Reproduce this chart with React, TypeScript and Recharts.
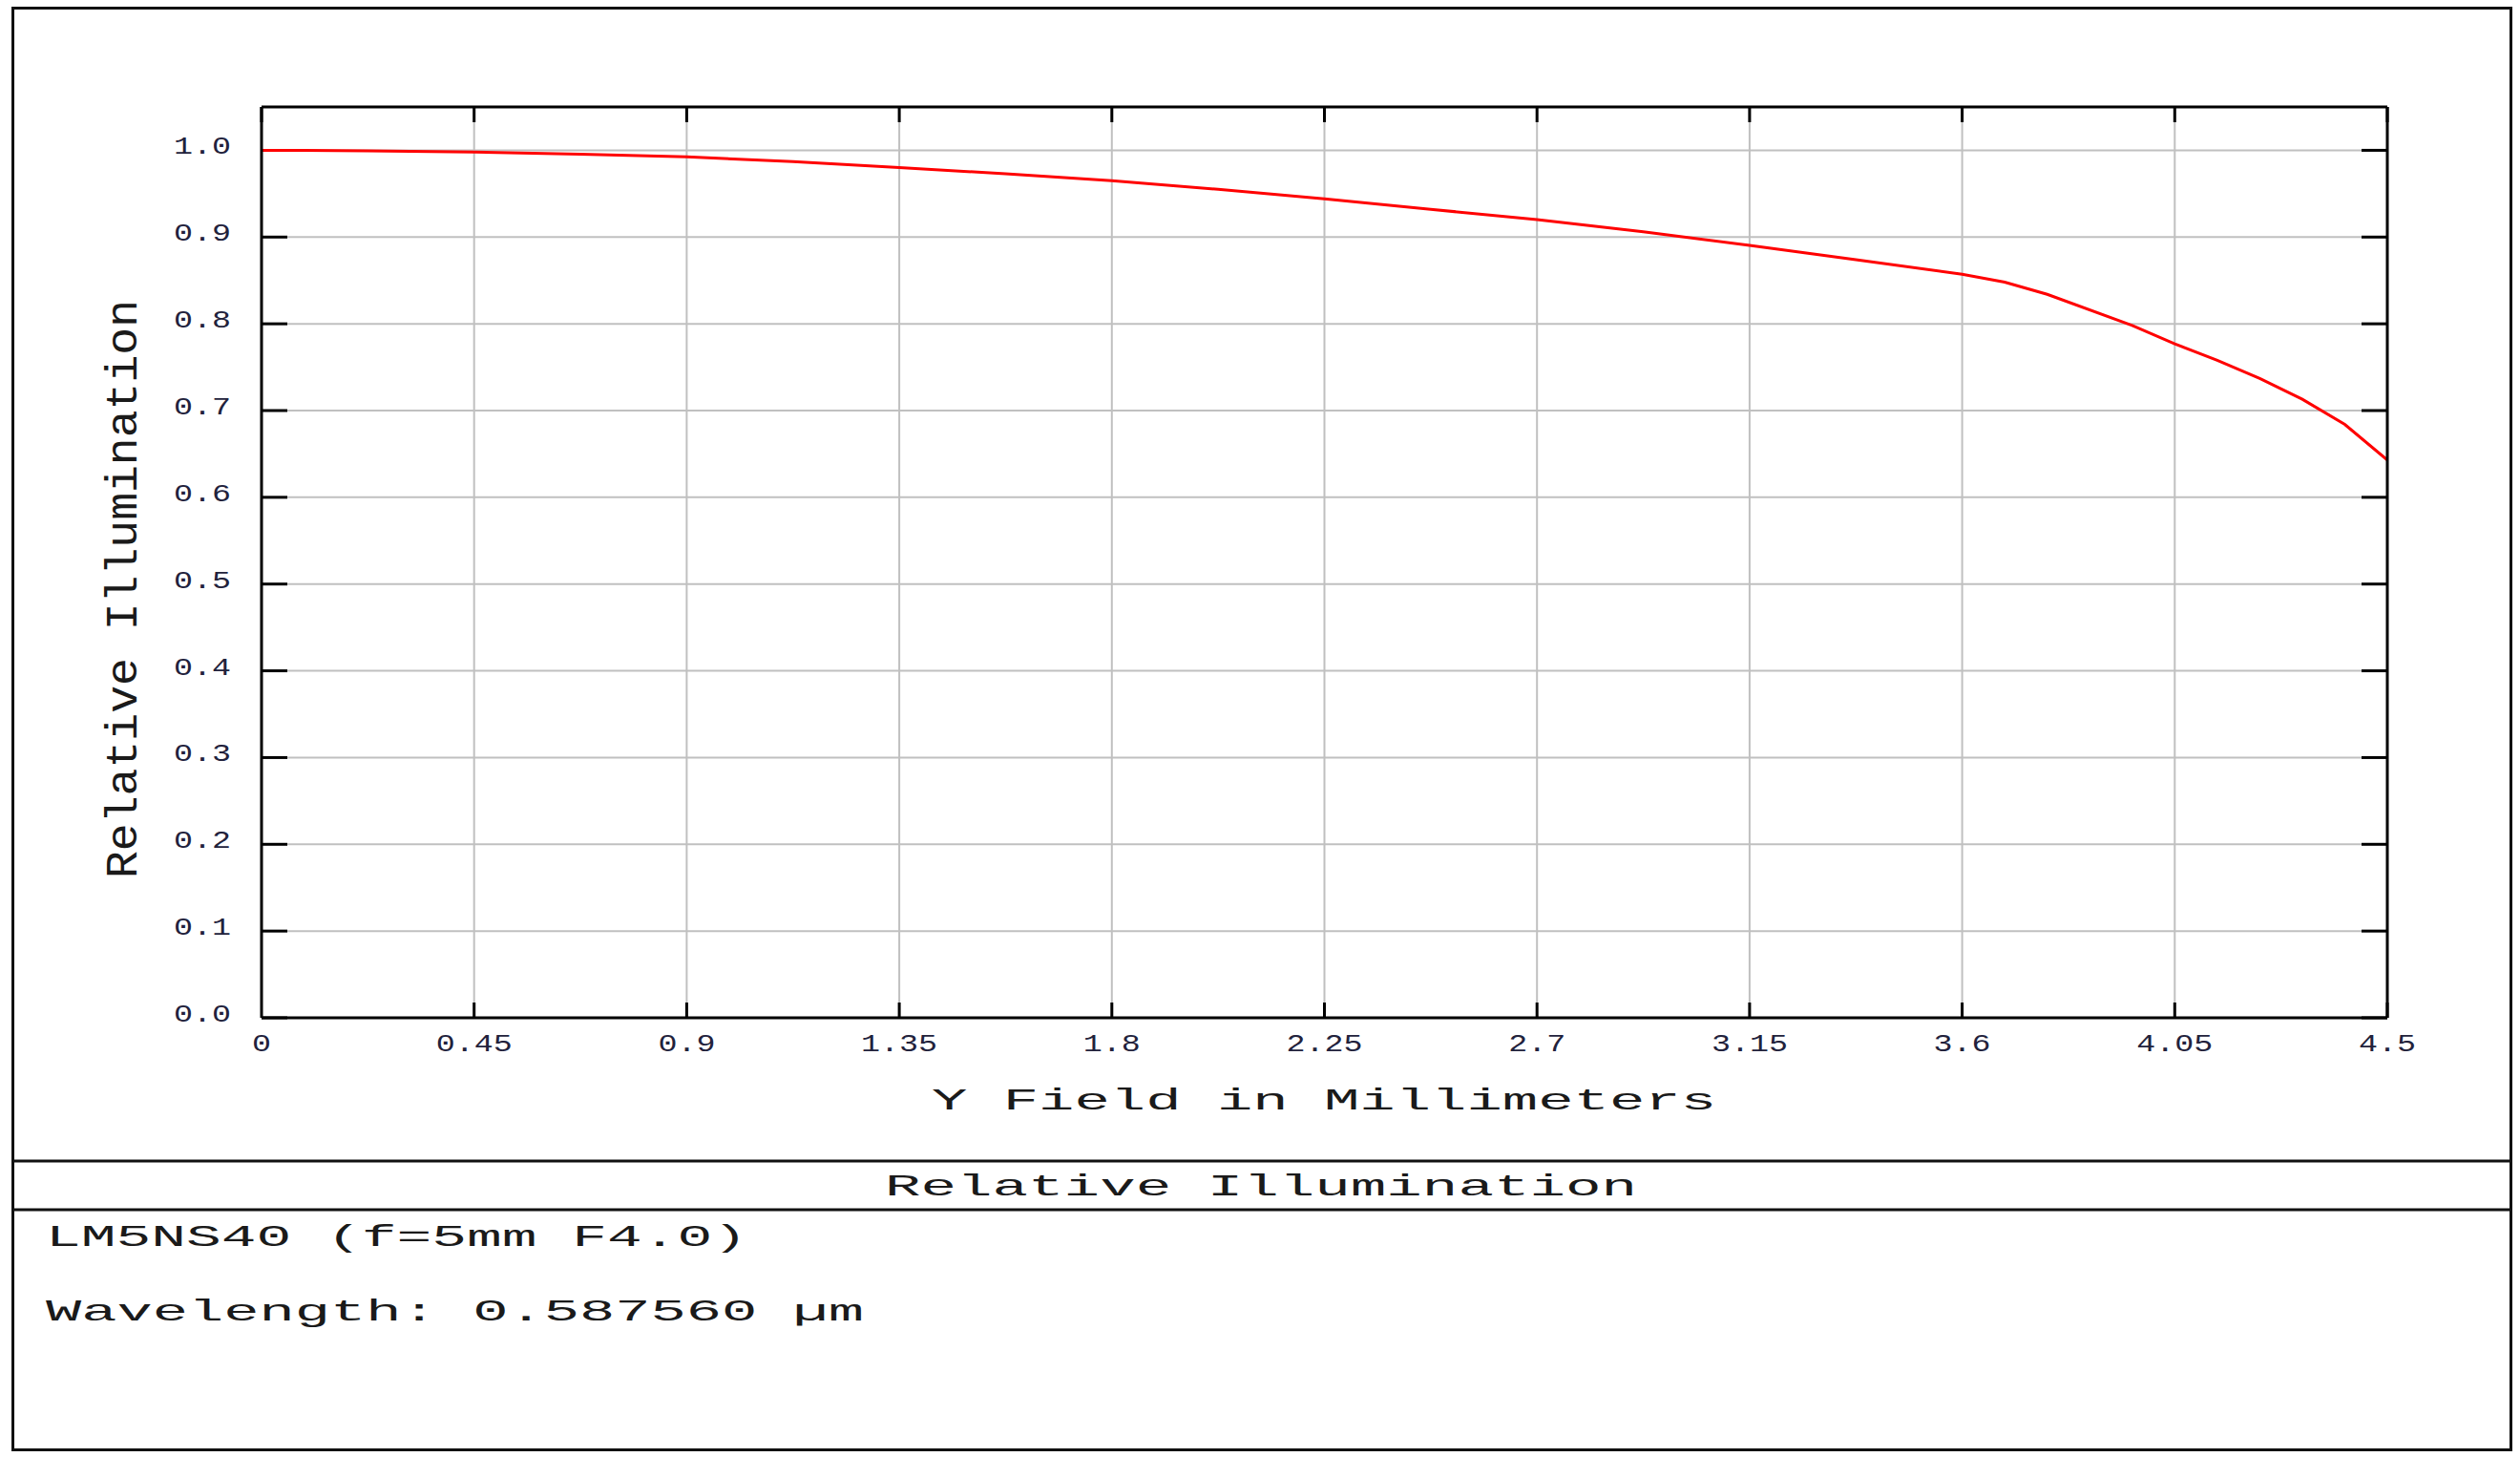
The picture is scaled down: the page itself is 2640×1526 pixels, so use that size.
import React from "react";
import { LineChart, Line, XAxis, YAxis, CartesianGrid } from "recharts";

// ---- data ----
const fieldMm = [0, 0.09, 0.225, 0.45, 0.675, 0.9, 1.125, 1.35, 1.575, 1.8, 2.025, 2.25, 2.475, 2.7, 2.925, 3.15, 3.375, 3.6, 3.69, 3.78, 3.96, 4.05, 4.14, 4.23, 4.32, 4.41, 4.5];
const relIllum = [1.0, 1.0, 0.9995, 0.998, 0.9955, 0.9925, 0.987, 0.98, 0.973, 0.965, 0.955, 0.944, 0.932, 0.92, 0.906, 0.8905, 0.874, 0.857, 0.848, 0.834, 0.798, 0.777, 0.758, 0.737, 0.713, 0.684, 0.643];

const xTickValues = [0, 0.45, 0.9, 1.35, 1.8, 2.25, 2.7, 3.15, 3.6, 4.05, 4.5];
const xTickLabels = ["0", "0.45", "0.9", "1.35", "1.8", "2.25", "2.7", "3.15", "3.6", "4.05", "4.5"];
const yTickValues = [0, 0.1, 0.2, 0.3, 0.4, 0.5, 0.6, 0.7, 0.8, 0.9, 1.0];
const yTickLabels = ["0.0", "0.1", "0.2", "0.3", "0.4", "0.5", "0.6", "0.7", "0.8", "0.9", "1.0"];

const xAxisTitle = "Y Field in Millimeters";
const yAxisTitle = "Relative Illumination";
const panelTitle = "Relative Illumination";
const infoLines = ["LM5NS40 (f=5mm F4.0)", "Wavelength: 0.587560 \u00b5m"];

const data = fieldMm.map((x, i) => ({ x, y: relIllum[i] }));

const FONT = "'Liberation Mono', 'Courier New', monospace";
const TICK_COLOR = "#22223c";
const TEXT_COLOR = "#1a1a1a";

function indexFor(values: number[], v: number) {
  let best = 0;
  for (let i = 0; i < values.length; i++) {
    if (Math.abs(values[i] - v) < Math.abs(values[best] - v)) best = i;
  }
  return best;
}

const BottomTick = (props: any) => {
  const { x, y, payload } = props;
  const i = indexFor(xTickValues, payload.value);
  const label = xTickLabels[i];
  return (
    <g>
      {i > 0 && <line x1={x} y1={y} x2={x} y2={y - 16} stroke="#000" strokeWidth={3} />}
      <text
        x={x}
        y={y + 35}
        textAnchor="middle"
        fontFamily={FONT}
        fontSize={25}
        fill={TICK_COLOR}
        textLength={label.length * 20}
        lengthAdjust="spacingAndGlyphs"
      >
        {label}
      </text>
    </g>
  );
};

const TopTick = (props: any) => {
  const { x, y } = props;
  return <line x1={x} y1={y} x2={x} y2={y + 16} stroke="#000" strokeWidth={3} />;
};

const LeftTick = (props: any) => {
  const { x, y, payload } = props;
  const i = indexFor(yTickValues, payload.value);
  const label = yTickLabels[i];
  return (
    <g>
      {i < yTickValues.length - 1 && (
        <line x1={x} y1={y} x2={x + 27} y2={y} stroke="#000" strokeWidth={3} />
      )}
      <text
        x={x - 32}
        y={y + 4}
        textAnchor="end"
        fontFamily={FONT}
        fontSize={25}
        fill={TICK_COLOR}
        textLength={label.length * 20}
        lengthAdjust="spacingAndGlyphs"
      >
        {label}
      </text>
    </g>
  );
};

const RightTick = (props: any) => {
  const { x, y } = props;
  return <line x1={x} y1={y} x2={x - 27} y2={y} stroke="#000" strokeWidth={3} />;
};

export default function App() {
  const W = 2640;
  const H = 1526;
  return (
    <div style={{ position: "absolute", left: 0, top: 0, width: W, height: H, background: "#fff" }}>
      <svg width={W} height={H} style={{ position: "absolute", left: 0, top: 0 }}>
        <rect x={13.5} y={8.5} width={2617} height={1510} fill="#fff" stroke="#111" strokeWidth={3} />
        <line x1={13} y1={1216} x2={2631} y2={1216} stroke="#111" strokeWidth={3} />
        <line x1={13} y1={1267} x2={2631} y2={1267} stroke="#111" strokeWidth={3} />
        <text
          x={1321}
          y={1252}
          textAnchor="middle"
          fontFamily={FONT}
          fontSize={32}
          fill={TEXT_COLOR}
          textLength={788}
          lengthAdjust="spacingAndGlyphs"
        >
          {panelTitle}
        </text>
        <text
          x={48}
          y={1305}
          fontFamily={FONT}
          fontSize={32}
          fill={TEXT_COLOR}
          textLength={735}
          lengthAdjust="spacingAndGlyphs"
        >
          {infoLines[0]}
        </text>
        <text
          x={48}
          y={1383}
          fontFamily={FONT}
          fontSize={32}
          fill={TEXT_COLOR}
          textLength={857}
          lengthAdjust="spacingAndGlyphs"
        >
          {infoLines[1]}
        </text>
        <text
          x={1387}
          y={1162}
          textAnchor="middle"
          fontFamily={FONT}
          fontSize={32}
          fill={TEXT_COLOR}
          textLength={822}
          lengthAdjust="spacingAndGlyphs"
        >
          {xAxisTitle}
        </text>
        <text
          x={0}
          y={0}
          transform="translate(143,617) rotate(-90)"
          textAnchor="middle"
          fontFamily={FONT}
          fontSize={46}
          fill={TEXT_COLOR}
          textLength={606}
          lengthAdjust="spacingAndGlyphs"
        >
          {yAxisTitle}
        </text>
      </svg>
      <div style={{ position: "absolute", left: 0, top: 0 }}>
        <LineChart
          width={W}
          height={H}
          data={data}
          margin={{ top: 92, left: 214, right: 109, bottom: 420 }}
        >
          <CartesianGrid stroke="#c0c0c0" strokeWidth={2} />
          <XAxis
            dataKey="x"
            type="number"
            domain={[0, 4.5]}
            ticks={xTickValues}
            interval={0}
            height={40}
            tickSize={0}
            tickMargin={0}
            tickLine={false}
            axisLine={{ stroke: "#000", strokeWidth: 3 }}
            tick={<BottomTick />}
            allowDataOverflow
          />
          <XAxis
            xAxisId="top"
            orientation="top"
            dataKey="x"
            type="number"
            domain={[0, 4.5]}
            ticks={xTickValues}
            interval={0}
            height={20}
            tickSize={0}
            tickMargin={0}
            tickLine={false}
            axisLine={{ stroke: "#000", strokeWidth: 3 }}
            tick={<TopTick />}
            allowDataOverflow
          />
          <YAxis
            type="number"
            domain={[0, 1.05]}
            ticks={yTickValues}
            interval={0}
            width={60}
            tickSize={0}
            tickMargin={0}
            tickLine={false}
            axisLine={{ stroke: "#000", strokeWidth: 3 }}
            tick={<LeftTick />}
            allowDataOverflow
          />
          <YAxis
            yAxisId="right"
            orientation="right"
            type="number"
            domain={[0, 1.05]}
            ticks={yTickValues}
            interval={0}
            width={30}
            tickSize={0}
            tickMargin={0}
            tickLine={false}
            axisLine={{ stroke: "#000", strokeWidth: 3 }}
            tick={<RightTick />}
            allowDataOverflow
          />
          <Line
            type="linear"
            dataKey="y"
            stroke="#ff0000"
            strokeWidth={3}
            dot={false}
            activeDot={false}
            isAnimationActive={false}
          />
        </LineChart>
      </div>
    </div>
  );
}
